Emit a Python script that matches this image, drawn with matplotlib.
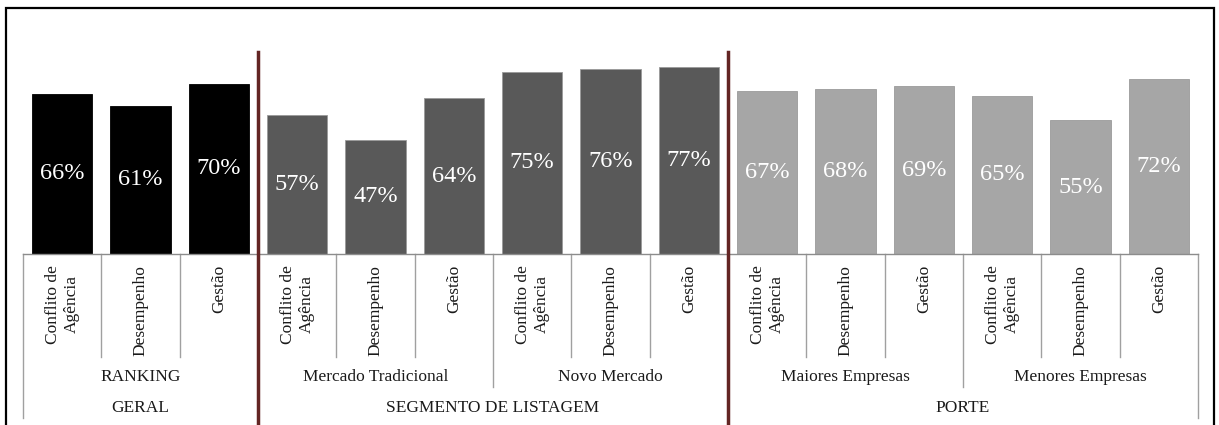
import numpy as np
import matplotlib.pyplot as plt
import matplotlib.transforms as mtransforms
from matplotlib.patches import Rectangle

plt.rcParams['font.family'] = ['Liberation Serif', 'DejaVu Serif']

# data
items = ['Conflito de\nAgência', 'Desempenho', 'Gestão']
subgroups = ['RANKING', 'Mercado Tradicional', 'Novo Mercado',
             'Maiores Empresas', 'Menores Empresas']
groups = ['GERAL', 'SEGMENTO DE LISTAGEM', 'PORTE']
subgroups_per_group = [1, 2, 2]
values = [0.66, 0.61, 0.70,
          0.57, 0.47, 0.64,
          0.75, 0.76, 0.77,
          0.67, 0.68, 0.69,
          0.65, 0.55, 0.72]
group_colors = ['#000000', '#595959', '#a6a6a6']

labels = items * len(subgroups)
n = len(values)

# colour of each bar from its group
bar_colors = []
for g, k in enumerate(subgroups_per_group):
    bar_colors += [group_colors[g]] * (k * len(items))

fig = plt.figure(figsize=(12.19, 4.25), dpi=100)
ax = fig.add_axes([23 / 1219, 171 / 425, 1175 / 1219, 202 / 425])

x = np.arange(n) + 0.5
bars = ax.bar(x, values, width=0.77, color=bar_colors,
              edgecolor=[c if c == '#000000' else '#9a9a9a' for c in bar_colors],
              linewidth=0.6, zorder=2)
for b, v in zip(bars, values):
    ax.text(b.get_x() + b.get_width() / 2, v / 2, f'{v:.0%}',
            ha='center', va='center', color='white', fontsize=17.5)

ax.set_xlim(0, n)
ax.set_ylim(0, 0.831)
ax.set_xticks([])
ax.set_yticks([])
for s in ['top', 'left', 'right']:
    ax.spines[s].set_visible(False)
ax.spines['bottom'].set_color('#8c8c8c')
ax.spines['bottom'].set_linewidth(1)

trans = mtransforms.blended_transform_factory(ax.transData, ax.transAxes)
line_kw = dict(color='#a0a0a0', lw=1, transform=trans, clip_on=False)

# item labels
for xi, lab in zip(x, labels):
    ax.text(xi, -0.054, lab, rotation=90, ha='center', va='top',
            multialignment='center', fontsize=12.5, color='#1a1a1a',
            transform=trans, linespacing=1.25)

# boundaries of each level
sub_size = len(items)
sub_edges = [i * sub_size for i in range(len(subgroups) + 1)]
grp_edges = [0]
for k in subgroups_per_group:
    grp_edges.append(grp_edges[-1] + k * sub_size)

for i in range(n + 1):
    depth = -0.51
    if i in sub_edges:
        depth = -0.658
    if i in grp_edges:
        depth = -0.81
    ax.plot([i, i], [0, depth], **line_kw)

for j, name in enumerate(subgroups):
    ax.text((sub_edges[j] + sub_edges[j + 1]) / 2, -0.609, name,
            ha='center', va='center', fontsize=12.5, color='#1a1a1a',
            transform=trans)
for j, name in enumerate(groups):
    ax.text((grp_edges[j] + grp_edges[j + 1]) / 2, -0.762, name,
            ha='center', va='center', fontsize=12.5, color='#1a1a1a',
            transform=trans)

# dividers between groups
for e in grp_edges[1:-1]:
    ax.plot([e, e], [1.0, -0.9], color='#632523', lw=2.5,
            transform=trans, clip_on=False, zorder=5)

# outer frame
fig.patches.append(Rectangle((6 / 1219, -0.1), 1208 / 1219, 1.1 - 8 / 425,
                             transform=fig.transFigure, fill=False,
                             edgecolor='black', lw=1.6))

fig.savefig('out.png', dpi=100)
